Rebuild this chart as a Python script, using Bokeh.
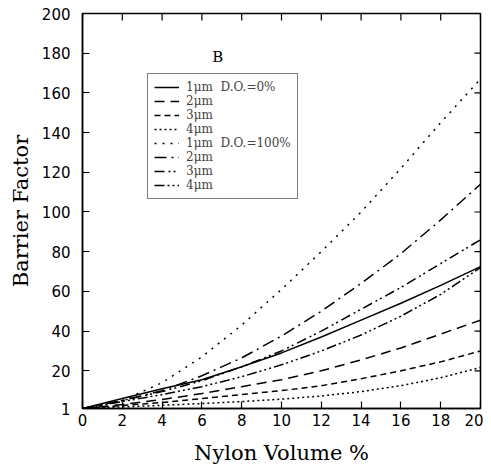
import math
from bokeh.plotting import figure
from bokeh.models import Legend, LegendItem, FixedTicker, Label, Range1d
from bokeh.embed import file_html
from bokeh.resources import INLINE

# ---- data ----
nylon_volume = [0, 2, 4, 6, 8, 10, 12, 14, 16, 18, 20]

do0_1um = [1, 6, 11, 15.5, 22, 29, 37, 45.5, 54, 63, 72.5]
do0_2um = [1, 3, 5.5, 8.5, 12, 15.5, 20, 25.5, 31.5, 38.5, 45.5]
do0_3um = [1, 2.5, 4, 6, 8, 10, 12.5, 16, 20, 24.5, 30]
do0_4um = [1, 1.8, 2.6, 3.5, 4.5, 5.7, 7.3, 9.5, 12.5, 16.5, 21.7]

do100_1um = [1, 5, 14, 27, 43, 61, 80, 100, 122, 145, 167]
do100_2um = [1, 5, 10, 17.5, 26.5, 37.5, 50, 64, 79, 96, 114]
do100_3um = [1, 5, 9.5, 15, 22, 30, 40, 51, 62, 74, 86]
do100_4um = [1, 4.5, 8, 12, 17, 23, 30, 38, 47.5, 58.5, 72]

series_labels = ["1\u03bcm  D.O.=0%", "2\u03bcm", "3\u03bcm", "4\u03bcm",
                 "1\u03bcm  D.O.=100%", "2\u03bcm", "3\u03bcm", "4\u03bcm"]
series_values = [do0_1um, do0_2um, do0_3um, do0_4um,
                 do100_1um, do100_2um, do100_3um, do100_4um]
dashes = ["solid", "10 6", "6 4", "2 3",
          "2 6", "12 5 2 5", "10 4 2 3 2 4", "10 3 2 3 2 3 2 3"]

x_ticks = [0, 2, 4, 6, 8, 10, 12, 14, 16, 18, 20]
y_ticks = [1, 20, 40, 60, 80, 100, 120, 140, 160, 180, 200]
x_max, y_max = 20, 200

SERIF = "DejaVu Serif"
SANS = "DejaVu Sans"

p = figure(width=483, height=470, output_backend="svg", toolbar_location=None,
           x_range=Range1d(0, x_max), y_range=Range1d(1, y_max),
           min_border_left=82, min_border_top=13, min_border_right=3,
           min_border_bottom=62)
p.background_fill_color = "white"
p.border_fill_color = "white"
p.outline_line_color = "black"
p.outline_line_width = 1.5
p.xgrid.visible = False
p.ygrid.visible = False

renderers = []
for vals, dash in zip(series_values, dashes):
    r = p.line(nylon_volume, vals, line_color="black", line_width=1.5,
               line_dash=dash)
    renderers.append(r)

for ax, ticks in ((p.xaxis[0], x_ticks), (p.yaxis[0], y_ticks)):
    ax.ticker = FixedTicker(ticks=ticks)
    ax.major_tick_in = 7
    ax.major_tick_out = 0
    ax.minor_tick_in = 0
    ax.minor_tick_out = 0
    ax.axis_line_width = 1.5
    ax.major_tick_line_width = 1.2
    ax.major_label_text_font = SANS
    ax.major_label_text_font_size = "15px"
    ax.major_label_text_color = "black"
    ax.axis_label_text_font = SERIF
    ax.axis_label_text_font_size = "21px"
    ax.axis_label_text_font_style = "normal"
    ax.axis_label_text_color = "black"

p.xaxis.axis_label = "Nylon Volume %"
p.yaxis.axis_label = "Barrier Factor"
p.xaxis.major_label_standoff = 5
p.yaxis.major_label_standoff = 12
p.xaxis.axis_label_standoff = 12
p.yaxis.axis_label_standoff = 6

# mirrored inward tick marks on the top and right frame edges
p.ray(x=x_ticks, y=[y_max] * len(x_ticks), length=7, length_units="screen",
      angle=-math.pi / 2, line_color="black", line_width=1.2)
p.ray(x=[x_max] * len(y_ticks), y=y_ticks, length=6, length_units="screen",
      angle=math.pi, line_color="black", line_width=1.2)

legend = Legend(items=[LegendItem(label=l, renderers=[r])
                       for l, r in zip(series_labels, renderers)],
                location=(65, 209))
legend.label_text_font = SERIF
legend.label_text_font_size = "12px"
legend.label_height = 12
legend.glyph_height = 12
legend.glyph_width = 25
legend.spacing = 0
legend.padding = 6
legend.margin = 0
legend.label_standoff = 7
legend.border_line_color = "black"
legend.border_line_width = 1.2
legend.background_fill_alpha = 1.0
p.add_layout(legend)

p.add_layout(Label(x=6.8, y=178, text="B", text_font=SERIF, text_font_size="15px",
                   text_align="center", text_baseline="middle", text_color="black"))

open("out.html", "w").write(file_html(p, INLINE))
